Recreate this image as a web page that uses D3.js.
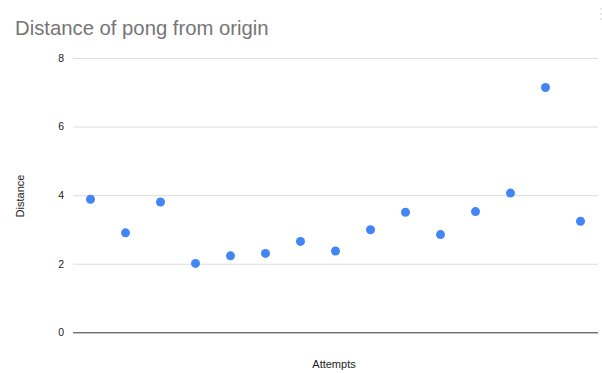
<!DOCTYPE html>
<html>
<head>
<meta charset="utf-8">
<script src="https://cdn.jsdelivr.net/npm/d3@7"></script>
<style>
  body { margin: 0; background: #fff; }
  #root { width: 602px; height: 373px; }
</style>
</head>
<body>
<div id="root"></div>
<script>
const SVG_WIDTH = 602;
const SVG_HEIGHT = 373;

// attempt numbers (x categories) and measured distance
const attempts = [1, 2, 3, 4, 5, 6, 7, 8, 9, 10, 11, 12, 13, 14, 15];
const distances = [3.88, 2.9, 3.8, 2.01, 2.23, 2.3, 2.65, 2.37, 2.99, 3.5, 2.85, 3.52, 4.06, 7.14, 3.24];
const yTicks = [0, 2, 4, 6, 8];

const margin = { top: 58, right: 4, bottom: 40, left: 73 };

function addSvg() {
  const svg = d3.select('#root').append('svg')
    .attr('id', 'svg')
    .attr('width', SVG_WIDTH)
    .attr('height', SVG_HEIGHT)
    .style('font-family', 'Arial, "Liberation Sans", sans-serif');
  return svg;
}

function draw() {
  const svg = d3.select('#svg');
  const x = d3.scaleBand().domain(attempts).range([margin.left, SVG_WIDTH - margin.right]);
  const y = d3.scaleLinear().domain([0, 8]).range([SVG_HEIGHT - margin.bottom - 0.7, margin.top]);

  // title
  svg.append('text')
    .attr('x', 15).attr('y', 35)
    .attr('font-size', 20.3)
    .attr('fill', '#757575')
    .text('Distance of pong from origin');

  // gridlines + tick labels
  const yAxis = d3.axisLeft(y).tickValues(yTicks).tickSize(-(SVG_WIDTH - margin.right - margin.left)).tickPadding(9);
  const g = svg.append('g').attr('transform', `translate(${margin.left},0)`).call(yAxis);
  g.select('.domain').remove();
  g.selectAll('.tick line')
    .attr('stroke', (d) => (d === 0 ? '#333' : '#ddd'))
    .attr('stroke-width', 1);
  g.selectAll('.tick text')
    .attr('font-size', 10.5)
    .attr('fill', '#222')
    .attr('font-family', 'Arial, "Liberation Sans", sans-serif');

  // points
  svg.append('g')
    .selectAll('circle')
    .data(attempts)
    .join('circle')
    .attr('cx', (d) => x(d) + x.bandwidth() / 2)
    .attr('cy', (d, i) => y(distances[i]))
    .attr('r', 4.5)
    .attr('fill', '#4285f4');

  // axis titles
  svg.append('text')
    .attr('x', 334).attr('y', 368)
    .attr('text-anchor', 'middle')
    .attr('font-size', 11)
    .attr('fill', '#222')
    .text('Attempts');

  svg.append('text')
    .attr('transform', 'translate(24,196) rotate(-90)')
    .attr('text-anchor', 'middle')
    .attr('font-size', 11)
    .attr('fill', '#222')
    .text('Distance');

  // faint menu dots top right
  svg.append('g')
    .selectAll('circle')
    .data([0, 1, 2])
    .join('circle')
    .attr('cx', 601)
    .attr('cy', (d) => 9 + d * 5)
    .attr('r', 1)
    .attr('fill', '#e0e0e0');
}

addSvg();
draw();
</script>
</body>
</html>
